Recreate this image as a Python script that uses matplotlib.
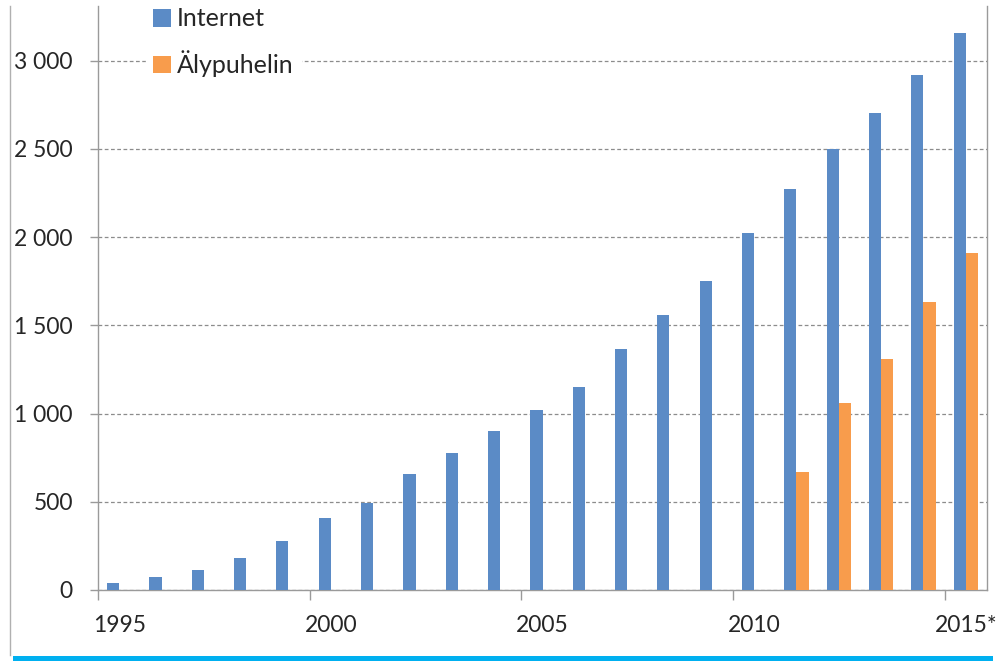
import matplotlib
matplotlib.use("Agg")
import matplotlib.pyplot as plt
import numpy as np
from matplotlib.patches import Patch, Rectangle
from matplotlib.lines import Line2D
from matplotlib.ticker import FuncFormatter

# ---------------------
# DATA
# ---------------------
YEARS = list(range(1995, 2016))
YEAR_LABELS = ["1995", "2000", "2005", "2010", "2015*"]
INTERNET = [40, 75, 115, 180, 275, 410, 495, 655, 775, 900, 1020,
            1150, 1365, 1560, 1750, 2025, 2270, 2500, 2705, 2920, 3155]
SMARTPHONE = [np.nan] * 16 + [670, 1060, 1310, 1635, 1910]
SERIES_NAMES = ["Internet", "Älypuhelin"]

BLUE = "#5b8bc6"
ORANGE = "#f89c4c"
TEXT = "#262626"
AXIS = "#9a9a9a"

plt.rcParams["font.family"] = ["Lato", "DejaVu Sans"]


def thousands(v, pos):
    return f"{int(v):,}".replace(",", " ")


def main():
    W, H = 1003, 661
    fig = plt.figure(figsize=(W / 100, H / 100), dpi=100)
    ax = fig.add_axes([98 / W, (H - 590) / H, (987 - 98) / W, (590 - 6) / H])

    x = np.arange(len(YEARS))
    w = 0.29
    ax.bar(x - w / 2, INTERNET, width=w, color=BLUE, zorder=3)
    ax.bar(x + w / 2, SMARTPHONE, width=w, color=ORANGE, zorder=3)

    ax.set_xlim(-0.5, len(YEARS) - 0.5)
    ax.set_ylim(0, 3310)

    ax.set_yticks(np.arange(0, 3001, 500))
    ax.yaxis.set_major_formatter(FuncFormatter(thousands))
    ax.tick_params(axis="y", direction="out", length=6, width=1, color=AXIS,
                   labelsize=16.5, labelcolor=TEXT, pad=12)
    ax.yaxis.grid(True, linestyle=(0, (3, 2)), color="#8c8c8c", linewidth=0.9, zorder=0)

    # tick marks on category boundaries, labels on category centres
    ax.set_xticks(np.arange(-0.5, len(YEARS), 5))
    ax.set_xticklabels([])
    ax.tick_params(axis="x", which="major", direction="out", length=7, width=1, color=AXIS)
    ax.set_xticks(x[::5], minor=True)
    ax.set_xticklabels(YEAR_LABELS, minor=True)
    ax.tick_params(axis="x", which="minor", length=0, labelsize=16.5, labelcolor=TEXT, pad=18)

    for side in ["left", "bottom", "right"]:
        ax.spines[side].set_color(AXIS)
        ax.spines[side].set_linewidth(1)
    ax.spines["top"].set_visible(False)

    handles = [Patch(facecolor=BLUE), Patch(facecolor=ORANGE)]
    leg = ax.legend(handles, SERIES_NAMES, loc="upper left",
                    bbox_to_anchor=(146 / W, 1.0), bbox_transform=fig.transFigure,
                    frameon=True, fancybox=False, framealpha=1, edgecolor="white",
                    fontsize=18, handlelength=0.7, handleheight=0.7,
                    handletextpad=0.25, labelspacing=0.8, borderpad=0.3,
                    borderaxespad=0)
    for t in leg.get_texts():
        t.set_color(TEXT)

    # outer frame line and cyan bottom stripe
    fig.add_artist(Line2D([10 / W, 10 / W], [(H - 655) / H, (H - 6) / H],
                          transform=fig.transFigure, color="#b0b0b0", linewidth=1))
    fig.add_artist(Rectangle((13 / W, 0), (993 - 13) / W, 5 / H,
                             transform=fig.transFigure, color="#00b0f0", linewidth=0))

    fig.savefig("out.png", dpi=100)
    plt.close(fig)


if __name__ == "__main__":
    main()
